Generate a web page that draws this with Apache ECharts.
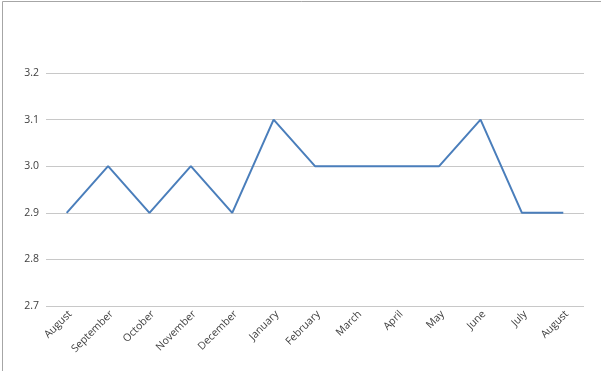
<!DOCTYPE html>
<html><head><meta charset="utf-8">
<script src="https://cdn.jsdelivr.net/npm/echarts@6/dist/echarts.min.js"></script>
<style>html,body{margin:0;padding:0;background:#fff}#c{width:601px;height:371px}</style>
</head><body><div id="c"></div>
<script>
const categories = ["August","September","October","November","December","January","February","March","April","May","June","July","August"];
const values = [2.9,3.0,2.9,3.0,2.9,3.1,3.0,3.0,3.0,3.0,3.1,2.9,2.9];
const yMin = 2.7, yMax = 3.2, yStep = 0.1;

const chart = echarts.init(document.getElementById('c'));
chart.setOption({
  animation:false,
  backgroundColor:'#fff',
  grid:{left:46,right:17,top:73,bottom:65},
  graphic:[
    {type:'line',shape:{x1:2.5,y1:1.5,x2:2.5,y2:371},style:{stroke:'#a6a6a6',lineWidth:1}},
    {type:'line',shape:{x1:2.5,y1:1.5,x2:601,y2:1.5},style:{stroke:'#a6a6a6',lineWidth:1}}
  ],
  xAxis:{type:'category',data:categories,boundaryGap:true,
    axisLine:{show:false},axisTick:{show:false},
    axisLabel:{rotate:45,interval:0,color:'#404040',fontSize:10.5,fontFamily:'Open Sans',margin:10,padding:[0,-5,0,0]}},
  yAxis:{type:'value',min:yMin,max:yMax,interval:yStep,
    axisLine:{show:false},axisTick:{show:false},
    axisLabel:{color:'#404040',fontSize:10.5,fontFamily:'Open Sans',margin:7,formatter:v=>v.toFixed(1)},
    splitLine:{lineStyle:{color:'#c8c8c8',width:1}}},
  series:[{type:'line',data:values,showSymbol:false,
    lineStyle:{color:'#4a7ebb',width:2}}]
});
</script></body></html>
